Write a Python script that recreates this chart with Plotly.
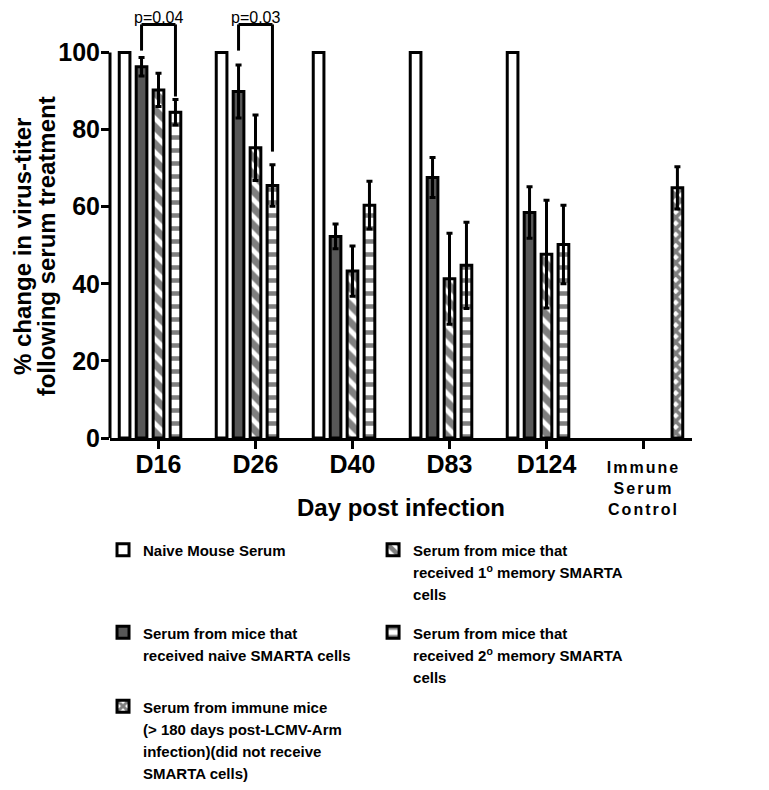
import plotly.graph_objects as go

categories = ["D16", "D26", "D40", "D83", "D124", "Immune Serum Control"]
tick_labels = [
    "<span style='font-size:25px'>D16</span>",
    "<span style='font-size:25px'>D26</span>",
    "<span style='font-size:25px'>D40</span>",
    "<span style='font-size:25px'>D83</span>",
    "<span style='font-size:25px'>D124</span>",
    "<span style='font-size:16px;letter-spacing:2px'>Immune</span><br>"
    "<span style='font-size:16px;letter-spacing:2px'>Serum</span><br>"
    "<span style='font-size:16px;letter-spacing:2px'>Control</span>",
]

naive_serum = [100, 100, 100, 100, 100, None]
naive_serum_err = [0, 0, 0, 0, 0, 0]
naive_smarta = [96.3, 89.9, 52.3, 67.6, 58.5, None]
naive_smarta_err = [2.4, 6.9, 3.2, 5.2, 6.7, 0]
mem1 = [90.3, 75.3, 43.3, 41.3, 47.7, None]
mem1_err = [4.3, 8.5, 6.5, 11.8, 14.0, 0]
mem2 = [84.5, 65.5, 60.4, 44.8, 50.2, None]
mem2_err = [3.3, 5.4, 6.2, 11.2, 10.2, 0]
immune = [None, None, None, None, None, 64.9]
immune_err = [0, 0, 0, 0, 0, 5.5]

y_ticks = [0, 20, 40, 60, 80, 100]

# significance brackets (category index, p text, left-leg bottom, right-leg bottom, top)
p_cats = [0, 1]
p_texts = ["p=0.04", "p=0.03"]
p_left_bottom = [100.5, 100.5]
p_right_bottom = [88.6, 74.3]
p_top = 107.3
p_label_y = 109.0

names = [
    ["Naive Mouse Serum"],
    ["Serum from mice that", "received naive SMARTA cells"],
    ["Serum from mice that", "received 1<sup>o</sup> memory SMARTA", "cells"],
    ["Serum from mice that", "received 2<sup>o</sup> memory SMARTA", "cells"],
    ["Serum from immune mice", "(&gt; 180 days post-LCMV-Arm", "infection)(did not receive", "SMARTA cells)"],
]

y_title_lines = ["% change in virus-titer", "following serum treatment"]

FONT = "Liberation Sans, Arial, sans-serif"
BARGAP = 0.126
NTR = 5
slot = (1 - BARGAP) / NTR


def legend_text(lines):
    return "<br>".join("<span style='font-size:15px'>" + ln + "</span>" for ln in lines)


series = [
    (naive_serum, naive_serum_err, dict(color="white"), "legend"),
    (naive_smarta, naive_smarta_err, dict(color="#575757"), "legend3"),
    (mem1, mem1_err, dict(color="white", pattern=dict(shape="\\", fgcolor="black", bgcolor="white", size=12, solidity=0.6)), "legend2"),
    (mem2, mem2_err, dict(color="white", pattern=dict(shape="-", fgcolor="black", bgcolor="white", size=13, solidity=0.35)), "legend4"),
    (immune, immune_err, dict(color="white", pattern=dict(shape="x", fgcolor="black", bgcolor="white", size=8, solidity=0.7)), "legend5"),
]

fig = go.Figure()
for (vals, errs, mk, lg), nm in zip(series, names):
    mk = dict(mk)
    mk["line"] = dict(color="black", width=3)
    fig.add_trace(go.Bar(
        x=categories, y=vals, name=legend_text(nm), marker=mk, legend=lg,
        error_y=dict(type="data", array=errs, visible=True, color="black", thickness=3, width=3),
    ))

shapes = [dict(type="line", xref="paper", yref="y", x0=0, x1=0, y0=0, y1=y_ticks[-1],
               line=dict(color="black", width=3))]
annotations = []
for c, t, lb, rb in zip(p_cats, p_texts, p_left_bottom, p_right_bottom):
    xl = c - slot
    xr = c + slot
    for seg in [(xl, lb, xl, p_top), (xl, p_top, xr, p_top), (xr, p_top, xr, rb)]:
        shapes.append(dict(type="line", xref="x", yref="y", x0=seg[0], y0=seg[1], x1=seg[2], y1=seg[3],
                           line=dict(color="black", width=3)))
    annotations.append(dict(x=c, y=p_label_y, xref="x", yref="y", text=t, showarrow=False,
                            yanchor="middle", borderpad=0,
                            font=dict(family=FONT, size=16, color="black")))

annotations.append(dict(x=0.5, y=-0.163, xref="paper", yref="paper", text="Day post infection",
                        showarrow=False, xanchor="center", yanchor="middle",
                        font=dict(family=FONT, size=24, color="black", weight="bold")))
for xp, line in zip([-0.150, -0.110], y_title_lines):
    annotations.append(dict(x=xp, y=0.452, xref="paper", yref="paper", text=line,
                            textangle=-90, showarrow=False, xanchor="center", yanchor="middle",
                            borderpad=0,
                            font=dict(family=FONT, size=24, color="black", weight="bold")))

leg_font = dict(family=FONT, size=17, color="black", weight="bold")
def leg(x, y):
    return dict(x=x, y=y, xanchor="left", yanchor="top", font=leg_font, valign="top",
                bgcolor="rgba(0,0,0,0)", itemwidth=30, tracegroupgap=0)

fig.update_layout(
    width=769, height=790,
    margin=dict(l=102, r=85, t=6, b=360, autoexpand=False),
    paper_bgcolor="white", plot_bgcolor="white",
    barmode="group", bargap=BARGAP, bargroupgap=0.37,
    showlegend=True,
    legend=leg(-0.012, -0.222),
    legend2=leg(0.452, -0.222),
    legend3=leg(-0.012, -0.417),
    legend4=leg(0.452, -0.417),
    legend5=leg(-0.012, -0.591),
    xaxis=dict(range=[-0.5, 5.5], tickvals=categories, ticktext=tick_labels,
               showline=True, linecolor="black", linewidth=3, ticks="outside",
               ticklen=8, tickwidth=3, tickcolor="black", showgrid=False, zeroline=False,
               ticklabelstandoff=5,
               tickfont=dict(family=FONT, size=16, color="black", weight="bold")),
    yaxis=dict(range=[0, 110], tickvals=y_ticks, showline=False, ticks="outside",
               ticklen=8, tickwidth=3, tickcolor="black", showgrid=False, zeroline=False,
               ticklabelstandoff=-4,
               tickfont=dict(family=FONT, size=25, color="black", weight="bold")),
    shapes=shapes, annotations=annotations,
)

fig.write_html("out.html")
